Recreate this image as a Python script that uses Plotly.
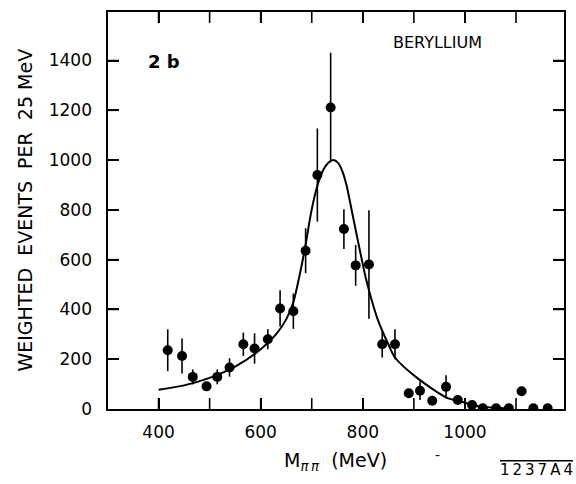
import plotly.graph_objects as go

# Data points (M_pipi in MeV, weighted events per 25 MeV, symmetric error)
mass = [418, 446, 467, 494, 515, 539, 566, 588, 614, 638, 664, 688, 711, 737,
        763, 786, 812, 838, 863, 890, 912, 936, 963, 986, 1014, 1035, 1061,
        1086, 1111, 1134, 1162]
events = [236, 213, 129, 91, 129, 167, 260, 243, 280, 404, 393, 636, 940, 1211,
          723, 577, 581, 260, 260, 63, 73, 33, 89, 36, 16, 3, 3, 3, 71, 3, 3]
errors = [84, 70, 30, 0, 30, 37, 47, 61, 40, 73, 71, 90, 187, 220,
          80, 82, 218, 53, 60, 0, 37, 0, 47, 0, 0, 0, 0, 0, 0, 0, 0]

# Fitted curve
curve_x = [400, 450, 500, 550, 600, 630, 650, 664, 677, 688, 697, 705, 713,
           723, 733, 742, 752, 760, 768, 781, 794, 806, 817, 830, 850, 863,
           905, 963, 1000, 1029, 1094]
curve_y = [77, 95, 125, 170, 240, 300, 360, 430, 545, 660, 770, 850, 910,
           962, 990, 1000, 988, 955, 900, 770, 640, 525, 440, 355, 260, 207,
           127, 47, 25, 10, 2]

x_tickvals = [400, 600, 800, 1000]
x_minor_ticks = [400, 500, 600, 700, 800, 900, 1000, 1100]
y_tickvals = [0, 200, 400, 600, 800, 1000, 1200, 1400]
y_ticktext = [str(v) + "\u00a0\u00a0" for v in y_tickvals]

FONT = "DejaVu Sans"
TICK_PX = 11
PLOT_W, PLOT_H = 457, 399

fig = go.Figure()
fig.add_trace(go.Scatter(
    x=curve_x, y=curve_y, mode="lines",
    line=dict(color="black", width=2, shape="spline", smoothing=0.7),
    hoverinfo="skip", showlegend=False))
fig.add_trace(go.Scatter(
    x=mass, y=events, mode="markers",
    marker=dict(color="black", size=10),
    error_y=dict(type="data", array=errors, visible=True, color="black",
                 thickness=1.6, width=0),
    showlegend=False))

axis_common = dict(showline=True, linecolor="black", linewidth=1.6,
                   mirror="allticks", ticks="inside", ticklen=TICK_PX,
                   tickwidth=1.6, tickcolor="black", showgrid=False,
                   zeroline=False,
                   tickfont=dict(family=FONT, size=17, color="black"))

fig.update_xaxes(range=[301, 1194], tickvals=x_tickvals,
                 ticklabelstandoff=7, **axis_common)
fig.update_yaxes(range=[0, 1595], tickvals=y_tickvals, ticktext=y_ticktext,
                 **axis_common)

# tick marks on all four sides of the frame (inside)
tick_line = dict(color="black", width=1.6)
shapes = []
for v in x_minor_ticks:
    shapes.append(dict(type="line", xref="x", yref="y domain", x0=v, x1=v,
                       y0=0, y1=TICK_PX / PLOT_H, line=tick_line))
    shapes.append(dict(type="line", xref="x", yref="y domain", x0=v, x1=v,
                       y0=1, y1=1 - TICK_PX / PLOT_H, line=tick_line))
for v in y_tickvals[1:]:
    shapes.append(dict(type="line", xref="x domain", yref="y", y0=v, y1=v,
                       x0=0, x1=TICK_PX / PLOT_W, line=tick_line))
    shapes.append(dict(type="line", xref="x domain", yref="y", y0=v, y1=v,
                       x0=1, x1=1 - TICK_PX / PLOT_W, line=tick_line))

annotations = [
    dict(text="<b>2 b</b>", x=400 + (164 - 158.3) / 0.5115,
         y=(409 - 60) / 0.2502, xref="x", yref="y",
         showarrow=False, font=dict(family=FONT, size=18, color="black")),
    dict(text="BERYLLIUM", x=400 + (438 - 158.3) / 0.5115,
         y=(409 - 41) / 0.2502, xref="x", yref="y",
         showarrow=False, font=dict(family=FONT, size=16, color="black")),
    dict(text="WEIGHTED\u00a0\u00a0EVENTS\u00a0\u00a0PER\u00a0\u00a025 MeV",
         textangle=-90, xref="paper", yref="paper", x=-0.184, y=0.5,
         xanchor="center", yanchor="middle", showarrow=False,
         font=dict(family=FONT, size=19, color="black")),
    dict(text="M<sub><i>\u03c0\u2009\u03c0</i></sub>\u00a0\u00a0(MeV)",
         xref="paper", yref="paper", x=(336 - 108) / 457, y=-(462 - 409) / 399,
         xanchor="center", yanchor="middle", showarrow=False,
         font=dict(family=FONT, size=19, color="black")),
    dict(text="-", xref="paper", yref="paper", x=(438 - 108) / 457,
         y=-(455 - 409) / 399, xanchor="center", yanchor="middle",
         showarrow=False, font=dict(family=FONT, size=14, color="black")),
    dict(text="<span style='text-decoration:overline'>1\u20092\u20093\u20097\u2009A\u20094</span>",
         xref="paper", yref="paper", x=(537 - 108) / 457, y=-(470 - 409) / 399,
         xanchor="center", yanchor="middle", showarrow=False,
         font=dict(family=FONT, size=15, color="black")),
]

fig.update_layout(
    width=576, height=484,
    margin=dict(l=108, r=11, t=10, b=75),
    paper_bgcolor="white", plot_bgcolor="white",
    font=dict(family=FONT, color="black"),
    annotations=annotations,
    shapes=shapes,
)

fig.write_html("out.html", config={"displayModeBar": False},
               post_script="document.body.style.margin='0';"
                           "document.body.style.overflow='hidden';")
